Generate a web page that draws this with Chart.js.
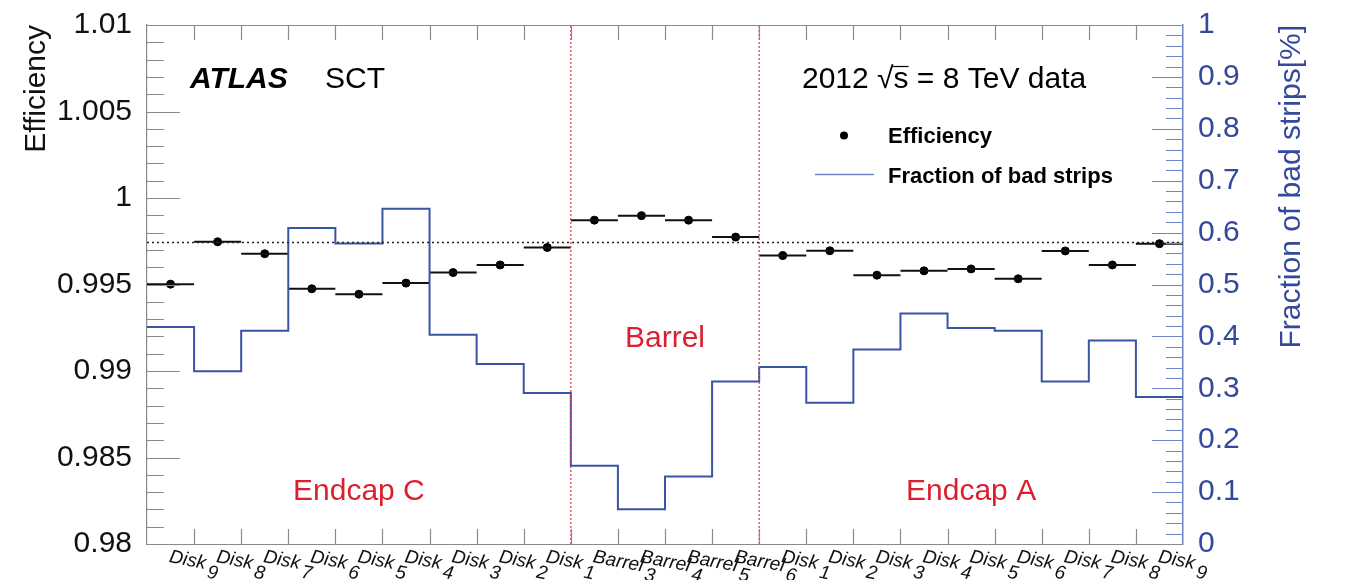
<!DOCTYPE html>
<html>
<head>
<meta charset="utf-8">
<script src="https://cdn.jsdelivr.net/npm/chart.js@4.4.1/dist/chart.umd.min.js"></script>
<style>
  html, body { margin: 0; padding: 0; background: #ffffff; }
  #wrap { width: 1347px; height: 580px; position: relative; }
</style>
</head>
<body>
<div id="wrap"><canvas id="c" width="1347" height="580"></canvas></div>
<script>
// ---------------- DATA ----------------
const categories = [
  "Disk 9", "Disk 8", "Disk 7", "Disk 6", "Disk 5", "Disk 4", "Disk 3", "Disk 2", "Disk 1",
  "Barrel 3", "Barrel 4", "Barrel 5", "Barrel 6",
  "Disk 1", "Disk 2", "Disk 3", "Disk 4", "Disk 5", "Disk 6", "Disk 7", "Disk 8", "Disk 9"
];
const efficiency = [
  0.99502, 0.99747, 0.99678, 0.99475, 0.99444, 0.99508, 0.99569, 0.99613, 0.99714,
  0.99872, 0.99898, 0.99872, 0.99774,
  0.99667, 0.99695, 0.99554, 0.99579, 0.99590, 0.99533, 0.99694, 0.99613, 0.99736
];
const badStripFraction = [
  0.418, 0.333, 0.411, 0.609, 0.579, 0.646, 0.403, 0.347, 0.291,
  0.151, 0.067, 0.130, 0.313,
  0.341, 0.272, 0.375, 0.444, 0.416, 0.411, 0.313, 0.392, 0.283
];
const averageEfficiency = 0.99743;
const regionBoundaries = [9, 13];
const regionNames = ["Endcap C", "Barrel", "Endcap A"];
const regionCenters = [4.5, 11, 17.5];
const effTicks = [0.98, 0.985, 0.99, 0.995, 1.0, 1.005, 1.01];
const effTickLabels = ["0.98", "0.985", "0.99", "0.995", "1", "1.005", "1.01"];
const fracTicks = [0, 0.1, 0.2, 0.3, 0.4, 0.5, 0.6, 0.7, 0.8, 0.9, 1.0];
const fracTickLabels = ["0", "0.1", "0.2", "0.3", "0.4", "0.5", "0.6", "0.7", "0.8", "0.9", "1"];
const leftTitle = "Efficiency";
const rightTitle = "Fraction of bad strips[%]";
const legendLabels = ["Efficiency", "Fraction of bad strips"];
const experimentLabel = "ATLAS";
const detectorLabel = "SCT";
const runLabel = "2012 \u221As = 8 TeV data";

// ---------------- STYLE ----------------
const FONT = "'Liberation Sans', Arial, Helvetica, sans-serif";
const BLUE_LINE = "#3a54a4";
const BLUE_AXIS = "#6f86c4";
const BLUE_TEXT = "#34499c";
const RED = "#dc1f2e";
const GRAY = "#8a8a8a";

// ---------------- DATASETS ----------------
const nBins = categories.length;
const effPoints = efficiency.map((v, i) => ({ x: i + 0.5, y: v }));
const effBars = [];
efficiency.forEach((v, i) => {
  effBars.push({ x: i, y: v }, { x: i + 1, y: v }, { x: i + 1, y: null });
});
const histPoints = badStripFraction.map((v, i) => ({ x: i, y: v }));
histPoints.push({ x: nBins, y: badStripFraction[nBins - 1] });

const datasets = [
  {
    label: "avg", data: [{ x: 0, y: averageEfficiency }, { x: nBins, y: averageEfficiency }],
    type: "line", yAxisID: "y", borderColor: "#222", borderWidth: 1.5, borderDash: [2, 3],
    pointRadius: 0, fill: false
  },
  ...regionBoundaries.map(b => ({
    label: "sep", data: [{ x: b, y: 0.98 }, { x: b, y: 1.01 }],
    type: "line", yAxisID: "y", borderColor: "#e0424f", borderWidth: 1.3, borderDash: [2, 2],
    pointRadius: 0, fill: false
  })),
  {
    label: legendLabels[1], data: histPoints, type: "line", yAxisID: "y2",
    stepped: "before", borderColor: BLUE_LINE, borderWidth: 2, pointRadius: 0, fill: false
  },
  {
    label: "effbars", data: effBars, type: "line", yAxisID: "y", spanGaps: false,
    borderColor: "#111", borderWidth: 2, pointRadius: 0, fill: false
  },
  {
    label: legendLabels[0], data: effPoints, type: "scatter", yAxisID: "y",
    pointRadius: 4, pointBackgroundColor: "#000", pointBorderColor: "#000", showLine: false
  }
];

// ---------------- OVERLAY PLUGIN ----------------
const overlay = {
  id: "overlay",
  afterDraw(chart) {
    const { ctx, chartArea: a, scales } = chart;
    const x = scales.x, y = scales.y, y2 = scales.y2;
    ctx.save();

    // frame top & bottom
    ctx.strokeStyle = GRAY; ctx.lineWidth = 1.2;
    ctx.beginPath();
    ctx.moveTo(a.left, a.top + 0.5); ctx.lineTo(a.right, a.top + 0.5);
    ctx.moveTo(a.left, a.bottom + 0.5); ctx.lineTo(a.right, a.bottom + 0.5);
    ctx.stroke();

    // bin boundary ticks (top & bottom), inside
    ctx.beginPath();
    for (let i = 1; i < nBins; i++) {
      const px = Math.round(x.getPixelForValue(i)) + 0.5;
      ctx.moveTo(px, a.top); ctx.lineTo(px, a.top + 15);
      ctx.moveTo(px, a.bottom); ctx.lineTo(px, a.bottom - 15);
    }
    ctx.stroke();

    // left axis ticks, inside
    ctx.beginPath();
    for (let k = 1; k < 30; k++) {
      const py = Math.round(y.getPixelForValue(0.98 + k * 0.001)) + 0.5;
      const len = (k % 5 === 0) ? 33 : 17;
      ctx.moveTo(a.left, py); ctx.lineTo(a.left + len, py);
    }
    ctx.stroke();

    // right axis ticks, inside
    ctx.strokeStyle = BLUE_AXIS;
    ctx.beginPath();
    for (let k = 1; k < 50; k++) {
      const py = Math.round(y2.getPixelForValue(k * 0.02)) + 0.5;
      const len = (k % 5 === 0) ? 31 : 17;
      ctx.moveTo(a.right, py); ctx.lineTo(a.right - len, py);
    }
    ctx.stroke();

    // x category labels (italic, rotated, number as subscript)
    ctx.fillStyle = "#111";
    ctx.font = "italic 19px " + FONT;
    ctx.textAlign = "left"; ctx.textBaseline = "alphabetic";
    const ang = 11 * Math.PI / 180;
    categories.forEach((lab, i) => {
      const parts = lab.split(" ");
      const cx = x.getPixelForValue(i + 0.5) - 2;
      ctx.save();
      ctx.translate(cx, a.bottom + 18);
      ctx.rotate(ang);
      ctx.fillText(parts[0], 0, 0);
      const w = ctx.measureText(parts[0]).width;
      ctx.fillText(parts[1], w + 3, 8);
      ctx.restore();
    });

    // right axis title (reads bottom to top)
    ctx.save();
    ctx.fillStyle = BLUE_TEXT;
    ctx.font = "30px " + FONT;
    ctx.translate(1292, a.top);
    ctx.rotate(-Math.PI / 2);
    ctx.textAlign = "right"; ctx.textBaseline = "middle";
    ctx.fillText(rightTitle, 0, 0);
    ctx.restore();

    // region labels
    ctx.fillStyle = RED;
    ctx.font = "30px " + FONT;
    ctx.textAlign = "center"; ctx.textBaseline = "alphabetic";
    ctx.fillText(regionNames[0], x.getPixelForValue(regionCenters[0]), 500);
    ctx.fillText(regionNames[1], x.getPixelForValue(regionCenters[1]), 347);
    ctx.fillText(regionNames[2], x.getPixelForValue(regionCenters[2]), 500);

    // ATLAS SCT
    ctx.fillStyle = "#000";
    ctx.textAlign = "left";
    ctx.font = "italic bold 30px " + FONT;
    ctx.fillText(experimentLabel, 190, 88);
    ctx.font = "30px " + FONT;
    ctx.fillText(detectorLabel, 325, 88);

    // run label with overline on s
    ctx.font = "30px " + FONT;
    ctx.fillText(runLabel, 802, 88);
    const pre = ctx.measureText("2012 \u221A").width;
    const sw = ctx.measureText("s").width;
    ctx.strokeStyle = "#000"; ctx.lineWidth = 1.2;
    ctx.beginPath();
    ctx.moveTo(802 + pre - 2, 66.5); ctx.lineTo(802 + pre + sw, 66.5);
    ctx.stroke();

    // legend
    ctx.beginPath();
    ctx.fillStyle = "#000";
    ctx.arc(844, 135.5, 4, 0, Math.PI * 2);
    ctx.fill();
    ctx.strokeStyle = BLUE_AXIS; ctx.lineWidth = 1.5;
    ctx.beginPath();
    ctx.moveTo(815, 174.5); ctx.lineTo(874, 174.5);
    ctx.stroke();
    ctx.fillStyle = "#000";
    ctx.font = "bold 22px " + FONT;
    ctx.textBaseline = "alphabetic";
    ctx.fillText(legendLabels[0], 888, 143);
    ctx.fillText(legendLabels[1], 888, 183);

    ctx.restore();
  }
};

// ---------------- CHART ----------------
new Chart(document.getElementById("c"), {
  type: "scatter",
  data: { datasets },
  plugins: [overlay],
  options: {
    responsive: false,
    animation: false,
    events: [],
    layout: { padding: { top: 22, bottom: 36, left: 0, right: 0 } },
    plugins: { legend: { display: false }, tooltip: { enabled: false } },
    scales: {
      x: { type: "linear", min: 0, max: nBins, display: false },
      y: {
        type: "linear", position: "left", min: 0.98, max: 1.01,
        afterFit(s) { s.width = 147; },
        afterBuildTicks(s) { s.ticks = effTicks.map(v => ({ value: v })); },
        ticks: {
          autoSkip: false, padding: 7, color: "#111",
          font: { family: FONT, size: 30 },
          callback: (v, i) => effTickLabels[i]
        },
        grid: { display: false },
        border: { display: true, color: GRAY, width: 1.2 },
        title: {
          display: true, text: leftTitle, align: "end", color: "#111",
          font: { family: FONT, size: 30 }, padding: { top: 19, bottom: 0 }
        }
      },
      y2: {
        type: "linear", position: "right", min: 0, max: 1,
        afterFit(s) { s.width = 164; },
        afterBuildTicks(s) { s.ticks = fracTicks.map(v => ({ value: v })); },
        ticks: {
          autoSkip: false, padding: 7, color: BLUE_TEXT,
          font: { family: FONT, size: 30 },
          callback: (v, i) => fracTickLabels[i]
        },
        grid: { display: false },
        border: { display: true, color: BLUE_AXIS, width: 1.5 }
      }
    }
  }
});
</script>
</body>
</html>
